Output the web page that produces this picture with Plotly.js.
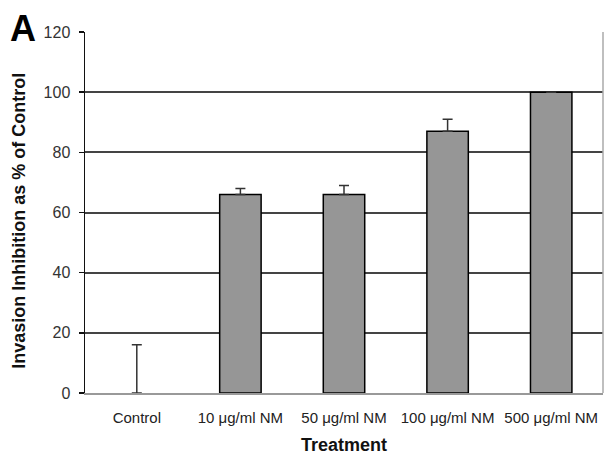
<!DOCTYPE html>
<html><head><meta charset="utf-8">
<script src="https://cdn.plot.ly/plotly-3.0.1.min.js"></script>
<style>html,body{margin:0;padding:0;background:#fff}#chart{width:614px;height:455px}</style>
</head><body><div id="chart"></div>
<script>
const categories = ["Control", "10 μg/ml NM", "50 μg/ml NM", "100 μg/ml NM", "500 μg/ml NM"];
const inhibition = [0, 66, 66, 87, 100];
const errorUp = [16, 2, 3, 4, 0];
const yTicks = [0, 20, 40, 60, 80, 100, 120];

const trace = {
  type: "bar",
  x: categories,
  y: inhibition,
  width: 0.4,
  marker: {color: "#969696", line: {color: "#000", width: inhibition.map(v => v > 0 ? 1.5 : 0)}},
  error_y: {type: "data", symmetric: false, array: errorUp, arrayminus: [0,0,0,0,0],
            color: "#333", thickness: 1.5, width: 5},
  hoverinfo: "none"
};

const layout = {
  width: 614, height: 455,
  margin: {l: 85, r: 11, t: 32, b: 62},
  paper_bgcolor: "#fff", plot_bgcolor: "#fff",
  showlegend: false,
  font: {family: "Arial, Liberation Sans, sans-serif", color: "#222"},
  xaxis: {
    type: "category",
    showgrid: false, ticks: "",
    tickfont: {size: 15, color: "#222"},
    ticklabelstandoff: 10,
    showline: true, linecolor: "#999", linewidth: 1.5, mirror: false,
    title: {text: ""}
  },
  yaxis: {
    range: [0, 120], tickvals: yTicks, ticktext: yTicks.map(String),
    showgrid: true, gridcolor: "#444", gridwidth: 2,
    zeroline: false,
    showline: true, linecolor: "#111", linewidth: 1.5,
    ticks: "outside", ticklen: 5, tickcolor: "#111", tickwidth: 1.5,
    tickfont: {size: 16, color: "#333"},
    ticklabelstandoff: 5,
    title: {text: ""}
  },
  shapes: [
    {type: "line", xref: "paper", yref: "paper", x0: 1, x1: 1, y0: 0, y1: 1,
     line: {color: "#aaa", width: 1.5}}
  ],
  annotations: [
    {text: "<b>A</b>", xref: "paper", yref: "paper", x: -0.12, y: 1.011,
     xanchor: "center", yanchor: "middle", showarrow: false,
     font: {size: 36, color: "#000", family: "Arial, Liberation Sans, sans-serif"}},
    {text: "<b>Invasion Inhibition as % of Control</b>", xref: "paper", yref: "paper",
     x: -0.127, y: 0.478, xanchor: "center", yanchor: "middle", textangle: -90, showarrow: false,
     font: {size: 18, color: "#111"}},
    {text: "<b>Treatment</b>", xref: "paper", yref: "paper",
     x: 0.5, y: -0.143, xanchor: "center", yanchor: "middle", showarrow: false,
     font: {size: 18, color: "#111"}}
  ]
};

Plotly.newPlot("chart", [trace], layout, {displayModeBar: false, staticPlot: true});
</script></body></html>
